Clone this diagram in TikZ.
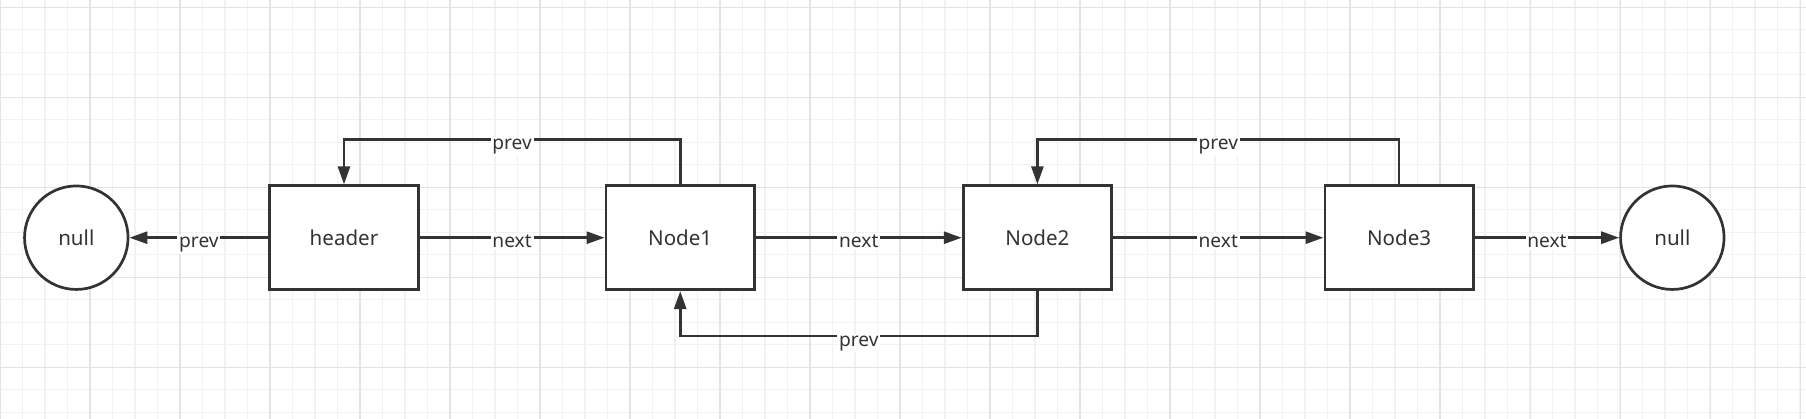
\documentclass[tikz,border=0pt]{standalone}
\usepackage{fontspec}
\setsansfont{Noto Sans}
\usetikzlibrary{positioning,arrows.meta,shapes.geometric}

\definecolor{ink}{HTML}{333333}
\definecolor{minorline}{HTML}{F2F2F2}
\definecolor{majorline}{HTML}{E4E4E4}

\tikzset{
  listnode/.style={draw=ink, line width=0.054cm, fill=white, minimum width=2.97cm,
    minimum height=2.08cm, inner sep=0pt, text=ink,
    font=\sffamily\fontsize{11.7}{14}\selectfont},
  nullnode/.style={listnode, ellipse, minimum width=2.07cm, minimum height=2.07cm},
  link/.style={draw=ink, line width=0.054cm, -{Triangle[length=0.36cm, width=0.24cm]}},
  linklabel/.style={fill=white, text=ink, inner sep=1pt, anchor=base, yshift=-0.2cm,
    font=\sffamily\fontsize{10.9}{13}\selectfont}
}

\begin{document}
\begin{tikzpicture}

    % Background grid
    \useasboundingbox (0,0) rectangle (36.12,-8.38);
    \begin{scope}
      \clip (0,0) rectangle (36.12,-8.38);
      \draw[minorline, line width=0.6pt, yshift=-0.146cm] (0,0.5) grid[step=0.45] (36.5,-8.6);
      \draw[majorline, line width=0.6pt, yshift=-0.146cm] (0,0.5) grid[step=1.8] (36.5,-8.6);
    \end{scope}

    % Define nodes
    \node[nullnode]                          (nullL) at (1.526,-4.754) {null};
    \node[listnode, right=2.78cm of nullL]   (header) {header};
    \node[listnode, right=3.70cm of header]  (node1) {Node1};
    \node[listnode, right=4.12cm of node1]   (node2) {Node2};
    \node[listnode, right=4.21cm of node2]   (node3) {Node3};
    \node[nullnode, right=2.89cm of node3]   (nullR) {null};

    % Connect the nodes
    \draw[link] (header) -- node[linklabel] {prev} (nullL);
    \draw[link] (header) -- node[linklabel] {next} (node1);
    \draw[link] (node1) -- node[linklabel] {next} (node2);
    \draw[link] (node2) -- node[linklabel] {next} (node3);
    \draw[link] (node3) -- node[linklabel] {next} (nullR);

    \draw[link] (node1.north) -- ++(0,0.9) -| node[linklabel, pos=0.25] {prev} (header.north);
    \draw[link] (node3.north) -- ++(0,0.9) -| node[linklabel, pos=0.25] {prev} (node2.north);
    \draw[link] (node2.south) -- ++(0,-0.9) -| node[linklabel, pos=0.25] {prev} (node1.south);

\end{tikzpicture}
\end{document}
